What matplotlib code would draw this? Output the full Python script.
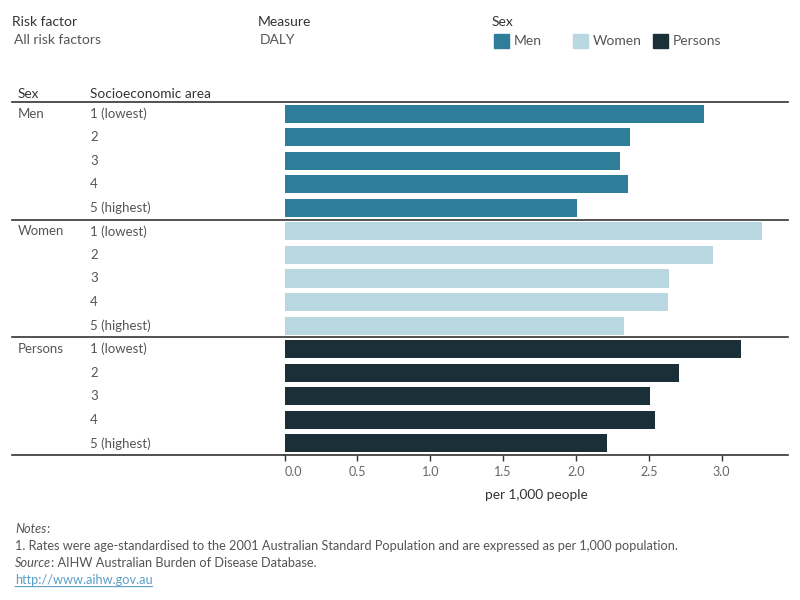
import matplotlib.pyplot as plt
import matplotlib.transforms as mtransforms
from matplotlib.patches import Rectangle

plt.rcParams['font.family'] = ['Lato', 'DejaVu Sans']

sexes = ['Men', 'Women', 'Persons']
areas = ['1 (lowest)', '2', '3', '4', '5 (highest)']
men = [2.88, 2.37, 2.30, 2.36, 2.01]
women = [3.28, 2.94, 2.64, 2.63, 2.33]
persons = [3.13, 2.71, 2.51, 2.54, 2.21]
colors = {'Men': '#2e7e99', 'Women': '#b8d7e0', 'Persons': '#1b2f38'}
ticks = [0.0, 0.5, 1.0, 1.5, 2.0, 2.5, 3.0]

W, H = 800, 600
fig = plt.figure(figsize=(8, 6), dpi=100)

# main axes in pixel layout
x0, x1 = 284, 788
y0, y1 = 102, 455
ax = fig.add_axes([x0 / W, 1 - y1 / H, (x1 - x0) / W, (y1 - y0) / H])

values = [men, women, persons]
row = 0
for s, vals in zip(sexes, values):
    ax.barh(range(row, row + 5), vals, height=0.77, color=colors[s])
    row += 5

ax.set_ylim(14.5, -0.5)
ax.set_xlim(-0.004, 3.456)
for sp in ['top', 'right', 'left']:
    ax.spines[sp].set_visible(False)
ax.spines['bottom'].set_color('#333333')
ax.spines['bottom'].set_linewidth(1.2)
ax.set_yticks([])
ax.set_xticks(ticks)
ax.set_xticklabels([f'{t:.1f}' for t in ticks])
ax.tick_params(axis='x', length=4, width=1, color='#333333', labelcolor='#666666',
               labelsize=9, pad=4)
ax.get_xticklabels()[0].set_horizontalalignment('left')
ax.set_xlabel('per 1,000 people', fontsize=9.8, color='#333333', labelpad=8)

# row labels and separators (x in figure, y in data)
tr = mtransforms.blended_transform_factory(fig.transFigure, ax.transData)
for yl in [-0.5, 4.5, 9.5]:
    ax.plot([12 / W, x1 / W], [yl, yl], transform=tr, color='#333333', lw=1.2,
            clip_on=False)
ax.plot([12 / W, x0 / W], [14.5, 14.5], transform=tr, color='#333333', lw=1.2,
        clip_on=False)
row = 0
for s in sexes:
    fig.text(18 / W, row, s, transform=tr, fontsize=9.5, color='#555555', va='center')
    for i, a in enumerate(areas):
        fig.text(90 / W, row + i, a, transform=tr, fontsize=9.5, color='#555555',
                 va='center')
    row += 5

fig.text(18 / W, 1 - 94 / H, 'Sex', fontsize=9.8, color='#333333', va='center')
fig.text(90 / W, 1 - 94 / H, 'Socioeconomic area', fontsize=9.8, color='#333333',
         va='center')

# header / filters
fig.text(12 / W, 1 - 22 / H, 'Risk factor', fontsize=10, color='#333333', va='center')
fig.text(14 / W, 1 - 40 / H, 'All risk factors', fontsize=10, color='#555555', va='center')
fig.text(258 / W, 1 - 22 / H, 'Measure', fontsize=10, color='#333333', va='center')
fig.text(260 / W, 1 - 40 / H, 'DALY', fontsize=10, color='#555555', va='center')
fig.text(492 / W, 1 - 22 / H, 'Sex', fontsize=10, color='#333333', va='center')
for s, lx in zip(sexes, [494, 573, 653]):
    fig.patches.append(Rectangle((lx / W, 1 - 48 / H), 15 / W, 14 / H,
                                 transform=fig.transFigure, color=colors[s]))
    fig.text((lx + 20) / W, 1 - 41 / H, s, fontsize=10, color='#555555', va='center')

# notes
fs = 9.2
t1 = fig.text(15 / W, 1 - 533 / H, 'Notes', fontsize=fs, style='italic',
              color='#555555', va='baseline')
ax.annotate(':', xy=(1, 0), xycoords=t1, fontsize=fs, color='#555555',
            va='bottom', annotation_clip=False)
fig.text(15 / W, 1 - 550 / H,
         '1. Rates were age-standardised to the 2001 Australian Standard Population '
         'and are expressed as per 1,000 population.',
         fontsize=fs, color='#555555', va='baseline')
t2 = fig.text(15 / W, 1 - 567 / H, 'Source', fontsize=fs, style='italic',
              color='#555555', va='baseline')
ax.annotate(': AIHW Australian Burden of Disease Database.', xy=(1, 0), xycoords=t2,
            fontsize=fs, color='#555555', va='bottom', annotation_clip=False)
link = fig.text(15 / W, 1 - 584 / H, 'http://www.aihw.gov.au', fontsize=fs,
                color='#5b9fc7', va='baseline')
link.set_url('http://www.aihw.gov.au')
ax.annotate('', xy=(0, -0.05), xytext=(1, -0.05), xycoords=link, textcoords=link,
            arrowprops=dict(arrowstyle='-', color='#5b9fc7', lw=0.8,
                            shrinkA=0, shrinkB=0),
            annotation_clip=False)

fig.savefig('out.png', dpi=100)
